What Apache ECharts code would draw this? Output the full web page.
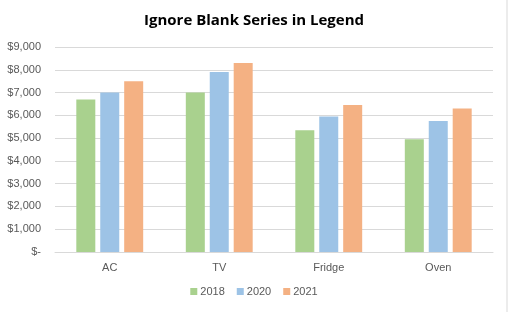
<!DOCTYPE html>
<html><head><meta charset="utf-8">
<script src="https://cdn.jsdelivr.net/npm/echarts@6/dist/echarts.min.js"></script>
<style>html,body{margin:0;padding:0;background:#fff}#c{width:508px;height:312px}</style>
</head><body><div id="c"></div>
<script>
const categories = ['AC', 'TV', 'Fridge', 'Oven'];
const seriesNames = ['2018', '2020', '2021'];
const v2018 = [6700, 7000, 5350, 4950];
const v2020 = [7000, 7900, 5950, 5750];
const v2021 = [7500, 8300, 6450, 6300];
const colors = ['#A9D18E', '#9DC3E6', '#F4B183'];
const chart = echarts.init(document.getElementById('c'));
const font = 'Liberation Sans, Arial, sans-serif';
chart.setOption({
  animation: false,
  title: { text: 'Ignore Blank Series in Legend', left: 'center', top: 8,
    textStyle: { fontFamily: 'Open Sans, Liberation Sans, sans-serif', fontSize: 15, fontWeight: 'bold', color: '#000' } },
  graphic: [{ type: 'line', shape: { x1: 507, y1: 0, x2: 507, y2: 312 }, style: { stroke: '#d9d9d9', lineWidth: 1 } }],
  grid: { left: 55, right: 15, top: 47, bottom: 60 },
  legend: { bottom: 10, left: 'center', itemWidth: 7, itemHeight: 7, itemGap: 12, icon: 'rect',
    textStyle: { fontFamily: font, fontSize: 11, color: '#595959', padding: [0, 0, 0, -2] },
    data: seriesNames },
  xAxis: { type: 'category', data: categories,
    axisLine: { lineStyle: { color: '#d9d9d9' } }, axisTick: { show: false },
    axisLabel: { fontFamily: font, fontSize: 11, color: '#595959', margin: 10 } },
  yAxis: { type: 'value', min: 0, max: 9000, interval: 1000,
    splitLine: { lineStyle: { color: '#d9d9d9' } },
    axisLabel: { fontFamily: font, fontSize: 11, color: '#595959', margin: 14,
      formatter: v => v === 0 ? '$-' : '$' + v.toLocaleString('en-US') } },
  series: [v2018, v2020, v2021].map((d, i) => ({
    name: seriesNames[i], type: 'bar', data: d, barWidth: 19, barGap: '26%',
    itemStyle: { color: colors[i] } }))
});
</script></body></html>
